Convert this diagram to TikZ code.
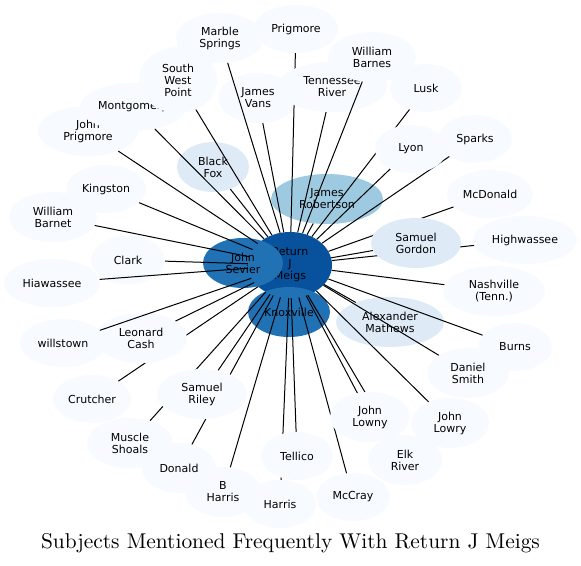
\documentclass[tikz,border=0pt]{standalone}
\usepackage{fontspec}
\usepackage{graphicx}
\newfontfamily\nodefont{DejaVu Sans}
\usetikzlibrary{shapes.geometric}
\definecolor{cpale}{RGB}{247,251,255}
\definecolor{clight}{RGB}{222,235,247}
\definecolor{cmid}{RGB}{158,202,225}
\definecolor{cblue}{RGB}{33,113,181}
\definecolor{cdark}{RGB}{8,81,156}
\pgfdeclarelayer{bg}
\pgfdeclarelayer{fg}
\pgfdeclarelayer{top}
\pgfsetlayers{bg,main,fg,top}
\tikzset{
  ent/.style 2 args={ellipse, inner sep=0pt, minimum width=#1pt, minimum height=#2pt,
    align=center, font=\nodefont\fontsize{11}{12}\selectfont, text=black, draw=none, fill=cpale},
  light/.style={fill=clight},
  mid/.style={fill=cmid},
  blue/.style={fill=cblue},
  dark/.style={fill=cdark},
  link/.style={line width=1pt, black},
  titletext/.style={anchor=base, inner sep=0pt}
}
\begin{document}
\begin{tikzpicture}[x=1pt,y=-1pt]
\useasboundingbox (0,0) rectangle (581,565);
\begin{pgfonlayer}{bg}
  % pale nodes
  \node[ent={88}{50}] (marble) at (220,38) {Marble\\Springs};
  \node[ent={84}{48}] (prig) at (296,29) {Prigmore};
  \node[ent={100}{50}] (jprig) at (88,131) {John\\Prigmore};
  \node[ent={106}{48}] (montg) at (133,107) {Montgomery};
  \node[ent={78}{66}] (swp) at (178,80) {South\\West\\Point};
  \node[ent={80}{50}] (jvans) at (258,98) {James\\Vans};
  \node[ent={72}{48}] (lusk) at (426,88) {Lusk};
  \node[ent={74}{48}] (sparks) at (475,139) {Sparks};
  \node[ent={80}{48}] (kings) at (106,189) {Kingston};
  \node[ent={86}{48}] (mcdon) at (490,194) {McDonald};
  \node[ent={88}{50}] (wbarnet) at (53,217) {William\\Barnet};
  \node[ent={104}{48}] (highw) at (525,240) {Highwassee};
  \node[ent={74}{48}] (clark) at (128,260) {Clark};
  \node[ent={96}{48}] (hiaw) at (52,283) {Hiawassee};
  \node[ent={102}{50}] (nash) at (494,291) {Nashville\\(Tenn.)};
  \node[ent={86}{48}] (wills) at (63,343) {willstown};
  \node[ent={74}{48}] (burns) at (515,347) {Burns};
  \node[ent={82}{50}] (dsmith) at (468,373) {Daniel\\Smith};
  \node[ent={78}{48}] (crutch) at (92,399) {Crutcher};
  \node[ent={78}{50}] (jlowry) at (450,423) {John\\Lowry};
  \node[ent={86}{50}] (muscle) at (130,443) {Muscle\\Shoals};
  \node[ent={74}{50}] (elk) at (405,460) {Elk\\River};
  \node[ent={74}{50}] (donald) at (179,468) {Donald};
  \node[ent={76}{50}] (bharris) at (223,492) {B\\Harris};
  \node[ent={74}{48}] (mccray) at (353,497) {McCray};
  \node[ent={72}{48}] (harris) at (280,504) {Harris};
  % coloured nodes
  \node[ent={72}{50}, light] (bfox) at (213,167) {Black\\Fox};
  \node[ent={108}{50}, light] (amath) at (390,322) {Alexander\\Mathews};
  \node[ent={112}{50}, mid] (jrob) at (327,199) {James\\Robertson};
  \node[ent={84}{66}, dark] (rjm) at (290,265) {Return\\J\\Meigs};
  \node[ent={80}{50}, blue] (jsev) at (243,263) {John\\Sevier};
  \node[ent={82}{50}, blue] (knox) at (289,312) {Knoxville};
\end{pgfonlayer}
\begin{pgfonlayer}{fg}
  \node[ent={110}{50}] (tennr) at (332,87) {Tennessee\\River};
  \node[ent={88}{50}] (wbarnes) at (372,57) {William\\Barnes};
  \node[ent={72}{48}] (lyon) at (411,149) {Lyon};
  \node[ent={90}{50}, light] (sgord) at (416,243) {Samuel\\Gordon};
  \node[ent={92}{50}] (lcash) at (141,338) {Leonard\\Cash};
  \node[ent={90}{50}] (sriley) at (202,394) {Samuel\\Riley};
  \node[ent={72}{48}] (tellico) at (297,456) {Tellico};
  \node[ent={80}{50}] (jlowny) at (370,417) {John\\Lowny};
\end{pgfonlayer}
% connectors
\foreach \n in {marble,prig,jprig,montg,swp,jvans,lusk,sparks,kings,mcdon,wbarnet,
  highw,clark,hiaw,nash,burns,dsmith,crutch,jlowry,muscle,elk,donald,bharris,
  mccray,harris,bfox,amath,jrob,tennr,lyon,sgord,lcash,sriley,tellico,jlowny}
  {\draw[link] (rjm) -- (\n);}
\begin{pgfonlayer}{top}
  \draw[link] (rjm) -- (wills);
  \draw[link] (rjm) -- (wbarnes);
\end{pgfonlayer}
\node[titletext] (title) at (290.5,548) {\fontsize{10}{12}\selectfont\scalebox{2.14}{Subjects Mentioned Frequently With Return J Meigs}};
\end{tikzpicture}
\end{document}
